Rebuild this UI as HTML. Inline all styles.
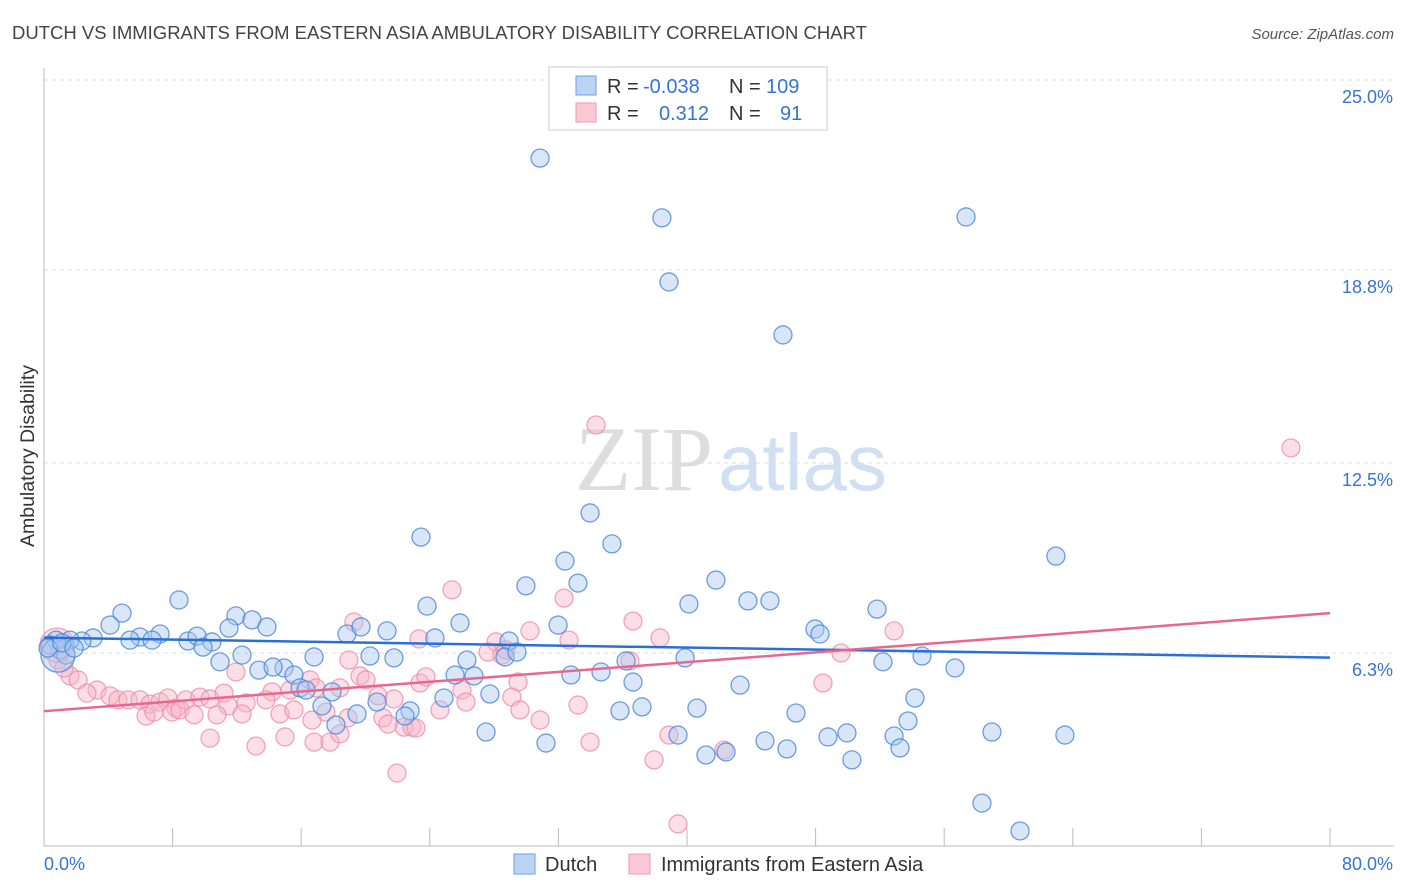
<!DOCTYPE html>
<html><head><meta charset="utf-8"><style>
body{margin:0;background:#fff;font-family:"Liberation Sans",sans-serif;}
svg{display:block}
</style></head><body>
<svg id="chart" width="1406" height="892">
<text x="12" y="39" font-size="18.5" fill="#444">DUTCH VS IMMIGRANTS FROM EASTERN ASIA AMBULATORY DISABILITY CORRELATION CHART</text>
<text x="1394" y="39" font-size="15" fill="#555" font-style="italic" text-anchor="end">Source: ZipAtlas.com</text>
<text x="34" y="456" font-size="19.5" fill="#333" text-anchor="middle" transform="rotate(-90 34 456)">Ambulatory Disability</text>
<text x="713" y="490" font-size="92" fill="#ddd" text-anchor="end" font-family="Liberation Serif, serif">ZIP</text>
<text x="718" y="490" font-size="80" fill="#d0dff2">atlas</text>
<g id="grid"></g><g id="axes"></g><g id="pts"></g><g id="lines"></g>
<g>
<rect x="549" y="67" width="278" height="63" fill="#fff" stroke="#ccc"/>
<rect x="576" y="76" width="20" height="19" fill="#bcd4f4" stroke="#6d9ee3"/>
<rect x="576" y="103" width="20" height="19" fill="#fbc8d6" stroke="#ef9ab2"/>
<text x="607" y="93" font-size="20" fill="#333">R = <tspan x="643" fill="#3574d4">-0.038</tspan><tspan x="729">N = </tspan><tspan x="766" fill="#3574d4">109</tspan></text>
<text x="607" y="120" font-size="20" fill="#333">R = <tspan x="659" fill="#3574d4">0.312</tspan><tspan x="729">N = </tspan><tspan x="780" fill="#3574d4">91</tspan></text>
</g>
<g>
<rect x="514" y="854" width="21" height="20" fill="#bcd4f4" stroke="#6d9ee3"/>
<text x="545" y="871" font-size="20" fill="#333">Dutch</text>
<rect x="629" y="854" width="21" height="20" fill="#fbc8d6" stroke="#ef9ab2"/>
<text x="661" y="871" font-size="20" fill="#333">Immigrants from Eastern Asia</text>
</g>
</svg>
<script>
const yTicks=[25,18.8,12.5,6.3];
const yTickLabels=["25.0%","18.8%","12.5%","6.3%"];
const xTickLabels=["0.0%","80.0%"];
const dutchPx=[[540,158],[662,218],[966,217],[669,282],[783,335],[421,537],[590,513],[612,544],[565,561],[1056,556],[526,586],[578,583],[716,580],[179,600],[427,606],[689,604],[748,601],[770,601],[877,609],[122,613],[236,616],[252,620],[460,623],[558,625],[815,629],[820,634],[110,625],[229,628],[267,627],[347,634],[361,627],[387,631],[435,638],[509,641],[160,634],[140,637],[130,640],[188,641],[197,636],[212,642],[152,640],[93,638],[82,641],[70,640],[56,640],[60,650],[66,655],[50,645],[203,647],[242,655],[314,657],[370,656],[394,658],[467,660],[505,657],[517,652],[626,661],[685,658],[883,662],[922,656],[955,668],[220,662],[259,670],[284,668],[294,675],[273,667],[300,688],[306,690],[332,692],[322,706],[377,702],[410,711],[455,675],[474,676],[490,694],[444,698],[571,675],[601,672],[633,682],[740,685],[915,698],[908,721],[642,707],[620,711],[697,708],[796,713],[357,714],[405,716],[336,725],[486,732],[546,743],[678,735],[706,755],[726,752],[765,741],[787,749],[828,737],[847,733],[852,760],[894,736],[900,748],[992,732],[1065,735],[982,803],[1020,831],[58,655],[48,648],[62,643],[74,648]];
const immPx=[[596,425],[1291,448],[452,590],[564,598],[633,621],[354,622],[894,631],[496,642],[530,631],[569,640],[660,638],[841,653],[488,652],[502,655],[506,650],[419,639],[349,660],[236,672],[58,660],[70,676],[78,680],[97,690],[87,693],[110,696],[118,700],[128,700],[140,700],[150,704],[160,702],[168,698],[176,708],[186,700],[200,697],[210,699],[224,693],[228,706],[246,703],[272,692],[290,690],[310,680],[316,688],[340,688],[360,676],[366,680],[378,696],[394,699],[420,683],[426,677],[462,690],[466,702],[518,682],[512,697],[520,710],[578,705],[630,661],[823,683],[146,716],[154,712],[172,712],[180,710],[194,715],[217,715],[242,714],[266,700],[280,714],[294,710],[312,720],[326,712],[348,718],[383,718],[404,727],[412,727],[440,710],[540,720],[210,738],[256,746],[285,737],[314,742],[330,742],[340,734],[388,724],[416,728],[590,742],[669,735],[724,750],[654,760],[397,773],[678,824],[64,668],[57,645]];
const dutchX=dutchPx.map(p=>+((p[0]-44)/1286*80).toFixed(2));
const dutchY=dutchPx.map(p=>+((846-p[1])/30.64).toFixed(2));
const immX=immPx.map(p=>+((p[0]-44)/1286*80).toFixed(2));
const immY=immPx.map(p=>+((846-p[1])/30.64).toFixed(2));
const dutchTrend=[6.8,6.15];
const immTrend=[4.4,7.6];
const X=v=>44+v/80*1286, Y=v=>846-v*30.64;
const NS="http://www.w3.org/2000/svg";
function mk(parent,tag,attrs){const e=document.createElementNS(NS,tag);for(const k in attrs)e.setAttribute(k,attrs[k]);document.getElementById(parent).appendChild(e);return e;}
yTicks.forEach((t,i)=>{
 const l=mk('grid','line',{x1:44,x2:1394,y1:Y(t),y2:Y(t),stroke:'#ddd','stroke-dasharray':'4,4'});
 
 
 const tx=mk('grid','text',{x:1393,y:Y(t)+23,'font-size':18,fill:'#3574d4','text-anchor':'end'});
 tx.textContent=yTickLabels[i];
 
 
});
const ax=mk('axes','line',{x1:44,x2:44,y1:68,y2:846,stroke:'#bbb'});


const bx=mk('axes','line',{x1:44,x2:1394,y1:846,y2:846,stroke:'#bbb'});


for(let k=0;k<=10;k++){const t=mk('axes','line',{x1:X(k*8),x2:X(k*8),y1:828,y2:846,stroke:'#bbb'});
 
 }
const xl0=mk('axes','text',{x:44,y:870,'font-size':18,fill:'#3574d4'});xl0.textContent=xTickLabels[0];


const xl1=mk('axes','text',{x:1393,y:870,'font-size':18,fill:'#3574d4','text-anchor':'end'});xl1.textContent=xTickLabels[1];


function pts(xs,ys,fill,stroke,name,bigIdx){
 xs.forEach((x,i)=>{const r=(i===bigIdx)?17:9;
  const c=mk('pts','circle',{cx:X(x),cy:Y(ys[i]),r:r,fill:fill,'fill-opacity':0.45,stroke:stroke,'stroke-width':1.3,'stroke-opacity':0.8});
  
  
 });
}
pts(immX,immY,'#f7b6c8','#ee8fab','immigrants-point',immX.length-1);
pts(dutchX,dutchY,'#a9c8f0','#4a86d8','dutch-point',dutchX.length-4);
const l1=mk('lines','line',{x1:X(0),y1:Y(dutchTrend[0]),x2:X(80),y2:Y(dutchTrend[1]),stroke:'#2a6fd6','stroke-width':2.5});


const l2=mk('lines','line',{x1:X(0),y1:Y(immTrend[0]),x2:X(80),y2:Y(immTrend[1]),stroke:'#e8678f','stroke-width':2.5});


</script>
</body></html>
